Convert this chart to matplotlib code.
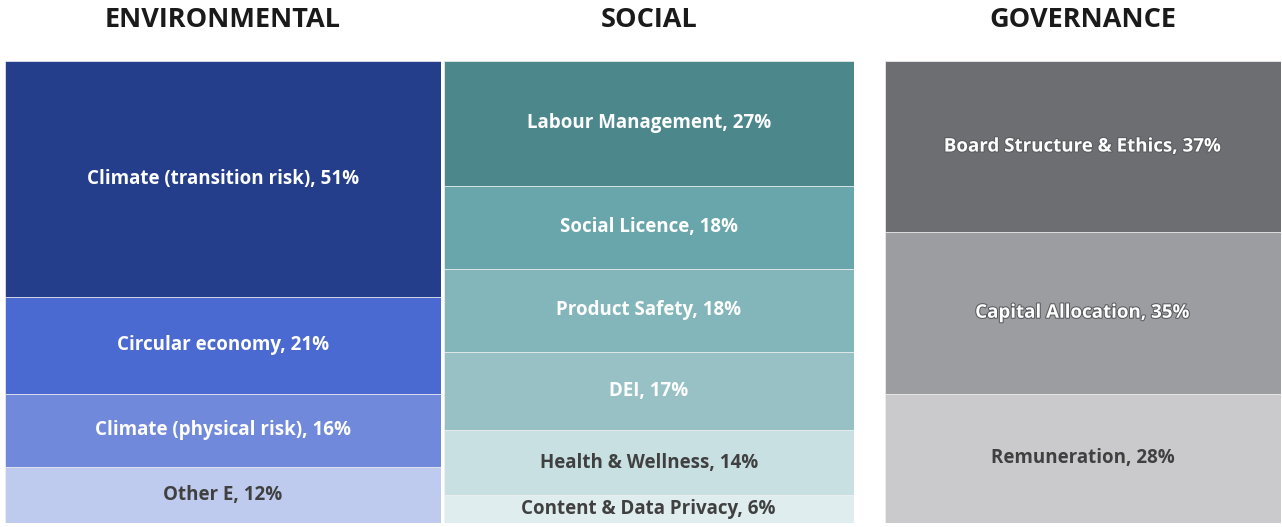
import matplotlib.pyplot as plt
import matplotlib.patheffects as pe

plt.rcParams['font.family'] = ['Open Sans', 'DejaVu Sans']

panels = ['ENVIRONMENTAL', 'SOCIAL', 'GOVERNANCE']

env_labels = ['Other E', 'Climate (physical risk)', 'Circular economy', 'Climate (transition risk)']
env_values = [12, 16, 21, 51]
env_colors = ['#BFCBEE', '#7089DB', '#4A69D1', '#243E8C']
env_text = ['#404040', 'white', 'white', 'white']

soc_labels = ['Content & Data Privacy', 'Health & Wellness', 'DEI', 'Product Safety',
              'Social Licence', 'Labour Management']
soc_values = [6, 14, 17, 18, 18, 27]
soc_colors = ['#E0EDEE', '#C8E0E2', '#98C1C6', '#82B6BA', '#68A6AC', '#4C878C']
soc_text = ['#404040', '#404040', 'white', 'white', 'white', 'white']

gov_labels = ['Remuneration', 'Capital Allocation', 'Board Structure & Ethics']
gov_values = [28, 35, 37]
gov_colors = ['#CACACC', '#9C9DA1', '#6D6E72']
gov_text = ['#404040', 'white', 'white']

data = [
    (env_labels, env_values, env_colors, env_text),
    (soc_labels, soc_values, soc_colors, soc_text),
    (gov_labels, gov_values, gov_colors, gov_text),
]

# axes boxes in figure fractions: left, width
boxes = [(0.004, 0.340), (0.346, 0.320), (0.690, 0.309)]

fig = plt.figure(figsize=(12.82, 5.27), dpi=100)

for (left, width), title, (labels, values, colors, tcols) in zip(boxes, panels, data):
    ax = fig.add_axes([left, 0.008, width, 0.876])
    bottom = 0
    for lab, val, col, tc in zip(labels, values, colors, tcols):
        ax.bar(0, val, width=1, bottom=bottom, color=col, edgecolor='#f2f2f2', linewidth=0.5)
        txt = ax.text(0, bottom + val / 2, f'{lab}, {val}%', ha='center', va='center',
                      fontsize=13.5, fontweight='bold', color=tc)
        if title == 'GOVERNANCE' and tc == 'white':
            txt.set_path_effects([pe.withStroke(linewidth=1.5, foreground='#5a5b5f')])
        bottom += val
    ax.set_xlim(-0.5, 0.5)
    ax.set_ylim(0, bottom)
    ax.axis('off')
    fig.text(left + width / 2, 0.962, title, ha='center', va='center',
             fontsize=19.5, fontweight='bold', color='#1a1a1a')

fig.savefig('out.png', dpi=100)
